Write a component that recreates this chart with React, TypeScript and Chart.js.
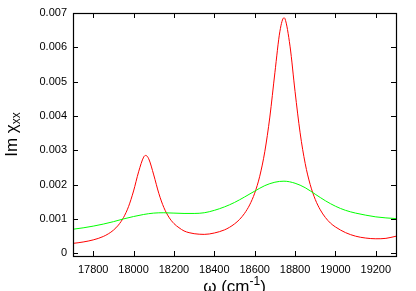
import React, { useEffect, useRef } from "react";
import { Chart, registerables } from "chart.js";

Chart.register(...registerables);

// ω (cm^-1) sample positions and Im χxx values, red curve
const omegaRed = [
  17700, 17725, 17750, 17775, 17800, 17825, 17850, 17875, 17900, 17925, 17950, 17975,
  18000, 18025, 18050, 18060, 18075, 18100, 18125, 18150, 18175, 18200, 18225, 18250,
  18275, 18300, 18350, 18400, 18450, 18475, 18500, 18525, 18550, 18575, 18600, 18625,
  18650, 18675, 18700, 18725, 18745, 18750, 18775, 18800, 18825, 18850, 18875, 18900,
  18925, 18950, 18975, 19000, 19050, 19100, 19150, 19200, 19250, 19300,
];
const imRed = [
  0.000288, 0.000306, 0.000328, 0.000355, 0.000389, 0.000432, 0.000489, 0.000566, 0.000671, 0.000821, 0.001038, 0.001358,
  0.001814, 0.002373, 0.002802, 0.00285, 0.002753, 0.002281, 0.001746, 0.001333, 0.001052, 0.000865, 0.000744, 0.00065,
  0.0006, 0.00057, 0.00055, 0.00059, 0.00068, 0.000755, 0.000855, 0.000985, 0.001164, 0.001408, 0.001751, 0.002244,
  0.002958, 0.003968, 0.005258, 0.00647, 0.006861, 0.006835, 0.006034, 0.00471, 0.00351, 0.00262, 0.002, 0.001568,
  0.001264, 0.001043, 0.00088, 0.000766, 0.000601, 0.000497, 0.000443, 0.000422, 0.000434, 0.000496,
];

// green curve
const omegaGreen = [
  17700, 17750, 17800, 17850, 17900, 17950, 18000, 18050, 18100, 18150, 18200, 18250,
  18300, 18350, 18400, 18450, 18500, 18550, 18600, 18650, 18700, 18745, 18800, 18850,
  18900, 18950, 19000, 19050, 19100, 19150, 19200, 19250, 19300,
];
const imGreen = [
  0.0007, 0.00074, 0.00079, 0.00085, 0.00092, 0.001, 0.00107, 0.00113, 0.00117, 0.00118, 0.00117, 0.00116,
  0.00116, 0.00118, 0.00125, 0.00135, 0.00148, 0.00164, 0.00181, 0.00197, 0.00207, 0.0021, 0.00204, 0.00191,
  0.00172, 0.00153, 0.00137, 0.00125, 0.00117, 0.00111, 0.00106, 0.00103, 0.00101,
];

const xTicks = [17800, 18000, 18200, 18400, 18600, 18800, 19000, 19200];
const yTicks = [0, 0.001, 0.002, 0.003, 0.004, 0.005, 0.006, 0.007];
const yTickLabels = ["0", "0.001", "0.002", "0.003", "0.004", "0.005", "0.006", "0.007"];

const FONT = "'Liberation Sans', Arial, Helvetica, sans-serif";

const framePlugin = {
  id: "framePlugin",
  afterDraw(chart: any) {
    const { ctx, chartArea } = chart;
    const { left, right, top, bottom } = chartArea;
    const xs = chart.scales.x;
    const ys = chart.scales.y;
    const tl = 5;
    ctx.save();
    ctx.strokeStyle = "#000";
    ctx.lineWidth = 1;
    ctx.beginPath();
    for (const t of xTicks) {
      const px = Math.round(xs.getPixelForValue(t)) + 0.5;
      ctx.moveTo(px, bottom);
      ctx.lineTo(px, bottom - tl);
      ctx.moveTo(px, top);
      ctx.lineTo(px, top + tl);
    }
    for (const t of yTicks) {
      const py = Math.round(ys.getPixelForValue(t)) + 0.5;
      ctx.moveTo(left, py);
      ctx.lineTo(left + tl, py);
      ctx.moveTo(right, py);
      ctx.lineTo(right - tl, py);
    }
    ctx.stroke();
    ctx.lineWidth = 1.2;
    ctx.strokeRect(Math.round(left) + 0.5, Math.round(top) + 0.5, Math.round(right - left), Math.round(bottom - top));

    // axis titles
    ctx.fillStyle = "#000";
    ctx.textBaseline = "alphabetic";
    // x title: ω (cm^-1)
    const big = 17;
    const small = 12;
    ctx.font = `${big}px ${FONT}`;
    const p1 = "ω (cm";
    const p3 = ")";
    const w1 = ctx.measureText(p1).width;
    const w3 = ctx.measureText(p3).width;
    ctx.font = `${small}px ${FONT}`;
    const p2 = "-1";
    const w2 = ctx.measureText(p2).width;
    const total = w1 + w2 + w3;
    const cx = (left + right) / 2;
    let x0 = cx - total / 2;
    const baseY = 292;
    ctx.font = `${big}px ${FONT}`;
    ctx.textAlign = "left";
    ctx.fillText(p1, x0, baseY);
    ctx.font = `${small}px ${FONT}`;
    ctx.fillText(p2, x0 + w1, baseY - 7);
    ctx.font = `${big}px ${FONT}`;
    ctx.fillText(p3, x0 + w1 + w2, baseY);

    // y title: Im χxx, rotated
    ctx.save();
    const cy = (top + bottom) / 2;
    ctx.translate(17, cy);
    ctx.rotate(-Math.PI / 2);
    ctx.font = `${big}px ${FONT}`;
    const q1 = "Im χ";
    const v1 = ctx.measureText(q1).width;
    ctx.font = `${small}px ${FONT}`;
    const q2 = "xx";
    const v2 = ctx.measureText(q2).width;
    let s0 = -(v1 + v2) / 2;
    ctx.font = `${big}px ${FONT}`;
    ctx.fillText(q1, s0, 0);
    ctx.font = `${small}px ${FONT}`;
    ctx.fillText(q2, s0 + v1, 3);
    ctx.restore();
    ctx.restore();
  },
};

export default function App() {
  const ref = useRef<HTMLCanvasElement | null>(null);
  useEffect(() => {
    if (!ref.current) return;
    const chart = new Chart(ref.current, {
      type: "line",
      data: {
        datasets: [
          {
            data: omegaGreen.map((w, i) => ({ x: w, y: imGreen[i] })),
            borderColor: "rgb(0,255,0)",
            borderWidth: 1,
            pointRadius: 0,
            fill: false,
            cubicInterpolationMode: "monotone",
          },
          {
            data: omegaRed.map((w, i) => ({ x: w, y: imRed[i] })),
            borderColor: "rgb(255,0,0)",
            borderWidth: 1,
            pointRadius: 0,
            fill: false,
            cubicInterpolationMode: "monotone",
          },
        ],
      },
      options: {
        animation: false,
        responsive: false,
        devicePixelRatio: 1,
        layout: { padding: { top: 13, right: 20, left: 0, bottom: 0 } },
        plugins: { legend: { display: false }, tooltip: { enabled: false } },
        scales: {
          x: {
            type: "linear",
            min: 17700,
            max: 19300,
            afterBuildTicks: (s: any) => {
              s.ticks = xTicks.map((v) => ({ value: v }));
            },
            afterFit: (s: any) => {
              s.height = 35;
            },
            grid: { display: false, drawTicks: false },
            border: { display: false },
            ticks: {
              autoSkip: false,
              maxRotation: 0,
              padding: 7,
              color: "#000",
              font: { family: FONT, size: 11 },
              callback: (v: any) => String(v),
            },
          },
          y: {
            type: "linear",
            min: -0.00008,
            max: 0.007,
            afterBuildTicks: (s: any) => {
              s.ticks = yTicks.map((v) => ({ value: v }));
            },
            afterFit: (s: any) => {
              s.width = 73;
            },
            grid: { display: false, drawTicks: false },
            border: { display: false },
            ticks: {
              autoSkip: false,
              padding: 6,
              color: "#000",
              font: { family: FONT, size: 11 },
              callback: (v: any) => {
                const i = yTicks.findIndex((t) => Math.abs(t - v) < 1e-9);
                return i >= 0 ? yTickLabels[i] : "";
              },
            },
          },
        },
      },
      plugins: [framePlugin],
    } as any);
    return () => chart.destroy();
  }, []);
  return (
    <div style={{ position: "fixed", left: 0, top: 0, width: 416, height: 291, background: "#fff" }}>
      <canvas ref={ref} width={416} height={291} style={{ width: 416, height: 291, display: "block" }} />
    </div>
  );
}
